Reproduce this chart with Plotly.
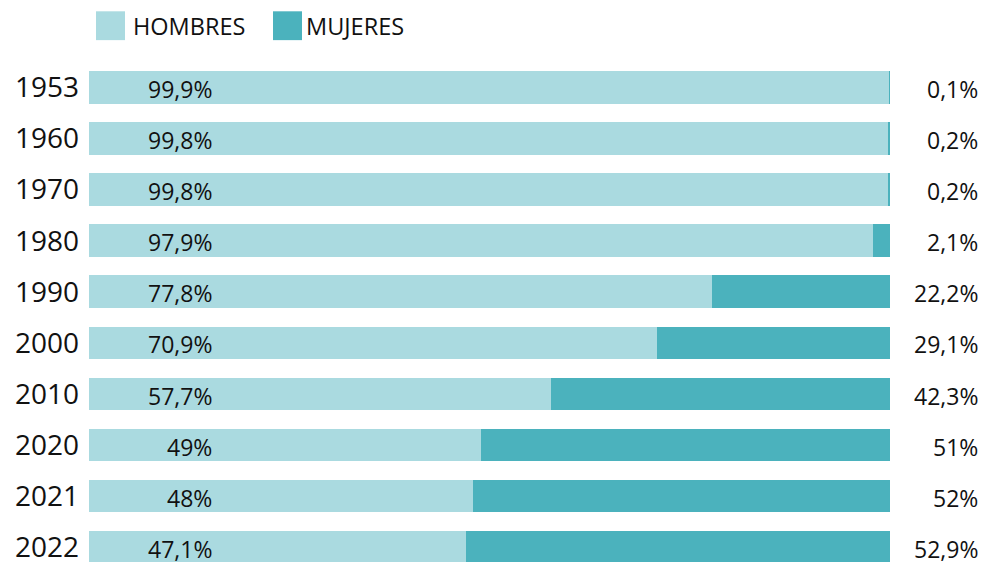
import plotly.graph_objects as go

years = ["1953", "1960", "1970", "1980", "1990", "2000", "2010", "2020", "2021", "2022"]
hombres = [99.9, 99.8, 99.8, 97.9, 77.8, 70.9, 57.7, 49, 48, 47.1]
mujeres = [0.1, 0.2, 0.2, 2.1, 22.2, 29.1, 42.3, 51, 52, 52.9]
hombres_lbl = ["99,9%", "99,8%", "99,8%", "97,9%", "77,8%", "70,9%", "57,7%", "49%", "48%", "47,1%"]
mujeres_lbl = ["0,1%", "0,2%", "0,2%", "2,1%", "22,2%", "29,1%", "42,3%", "51%", "52%", "52,9%"]

C_H = "#AADAE0"
C_M = "#4BB2BD"
FONT = "Open Sans"

W, H = 984, 565
L, R, T, B = 89, 94, 62, 0
pw, ph = W - L - R, H - T - B

def px_x(px):
    return (px - L) / pw

def px_y(py):
    return 1 - (py - T) / ph

fig = go.Figure()
fig.add_trace(go.Bar(y=years, x=hombres, orientation="h", marker=dict(color=C_H, line=dict(width=0)),
                     name="HOMBRES", width=0.64, hoverinfo="skip"))
fig.add_trace(go.Bar(y=years, x=mujeres, orientation="h", marker=dict(color=C_M, line=dict(width=0)),
                     name="MUJERES", width=0.64, hoverinfo="skip"))

ann = []
for i, (hl, ml) in enumerate(zip(hombres_lbl, mujeres_lbl)):
    ann.append(dict(x=15.6, y=i + 0.03, xref="x", yref="y", text=hl, showarrow=False, xanchor="right",
                    yanchor="middle", font=dict(family=FONT, size=23, color="#111111")))
    ann.append(dict(x=px_x(980), y=i + 0.03, xref="paper", yref="y", text=ml, showarrow=False, xanchor="right",
                    yanchor="middle", font=dict(family=FONT, size=23, color="#111111")))

# legend
shapes = []
for x0, lab, col, tx in [(96, "HOMBRES", C_H, 131), (273, "MUJERES", C_M, 304)]:
    shapes.append(dict(type="rect", xref="paper", yref="paper", x0=px_x(x0), x1=px_x(x0 + 29),
                       y0=px_y(40), y1=px_y(11), fillcolor=col, line=dict(width=0)))
    ann.append(dict(x=px_x(tx), y=px_y(26), xref="paper", yref="paper", text=lab, showarrow=False,
                    xanchor="left", yanchor="middle", font=dict(family=FONT, size=23.5, color="#111111")))

fig.update_layout(
    barmode="stack", width=W, height=H, margin=dict(l=L, r=R, t=T, b=B),
    paper_bgcolor="white", plot_bgcolor="white", showlegend=False, bargap=0.36,
    annotations=ann, shapes=shapes,
    xaxis=dict(range=[0, 100], visible=False, fixedrange=True),
    yaxis=dict(type="category", range=[9.29, -0.5], showgrid=False, zeroline=False, showline=False,
               ticks="", ticklabelstandoff=9, tickfont=dict(family=FONT, size=28, color="#111111")),
)
fig.write_html("out.html")
